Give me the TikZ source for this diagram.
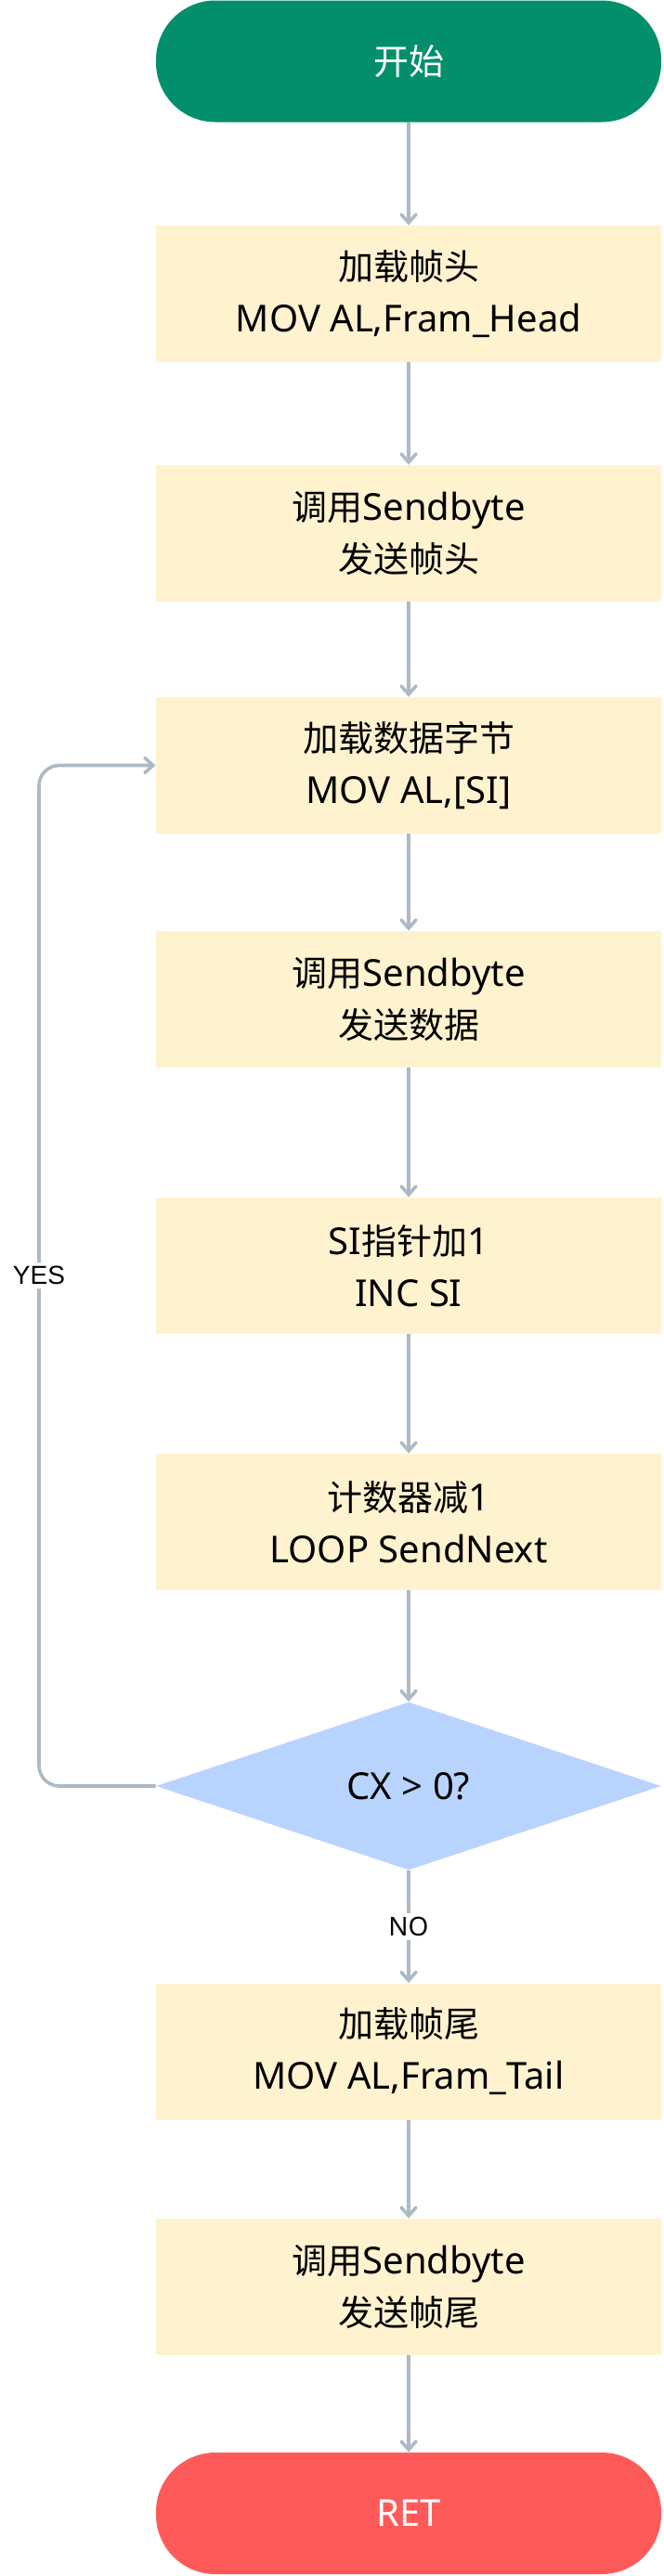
\documentclass[tikz,border=0pt]{standalone}
\usepackage{fontspec}
\setmainfont{Noto Sans}
\newfontfamily\cjk{Noto Sans CJK SC}
\newfontfamily\labelfont{Liberation Sans}
\newcommand{\zh}[1]{{\cjk\fontsize{19}{28}\selectfont #1}}
\usetikzlibrary{shapes.geometric,arrows.meta}
\definecolor{startgreen}{HTML}{038F6C}
\definecolor{stepyellow}{HTML}{FFF3CF}
\definecolor{testblue}{HTML}{B8D4FE}
\definecolor{endred}{HTML}{FF5A5A}
\definecolor{linegray}{HTML}{ADB9C3}
\tikzset{
  terminal/.style={rectangle, rounded corners=32pt, minimum width=272pt, minimum height=65.5pt,
    inner sep=0pt, text=white, font=\fontsize{20}{28}\selectfont},
  stepbox/.style={rectangle, fill=stepyellow, minimum width=272pt, minimum height=73.5pt,
    inner sep=0pt, align=center, font=\fontsize{20}{28}\selectfont},
  testbox/.style={diamond, fill=testblue, aspect=3, minimum width=272pt, minimum height=90.5pt,
    inner sep=0pt, font=\fontsize{20}{28}\selectfont},
  flow/.style={draw=linegray, line width=1.8pt, -{Straight Barb[length=4.5pt,width=8pt,line cap=round]}},
  branch/.style={fill=white, inner sep=2pt, font=\labelfont\fontsize{14}{16}\selectfont}
}
\begin{document}
\begin{tikzpicture}
\useasboundingbox (0,0) rectangle (357pt,-1387.5pt);
\node [terminal, fill=startgreen] (start) at (220pt,-33pt) {\zh{开始}};
\node [stepbox] (head) at (220pt,-158.25pt) {\zh{加载帧头}\\MOV AL,Fram\_Head};
\node [stepbox] (sendhead) at (220pt,-287.25pt) {\zh{调用}Sendbyte\\\zh{发送帧头}};
\node [stepbox] (load) at (220pt,-412.25pt) {\zh{加载数据字节}\\MOV AL,[SI]};
\node [stepbox] (senddata) at (220pt,-538.25pt) {\zh{调用}Sendbyte\\\zh{发送数据}};
\node [stepbox] (incsi) at (220pt,-681.75pt) {SI\zh{指针加}1\\INC SI};
\node [stepbox] (count) at (220pt,-819.75pt) {\zh{计数器减}1\\LOOP SendNext};
\node [testbox] (test) at (220pt,-962pt) {CX > 0?};
\node [stepbox] (tail) at (220pt,-1105pt) {\zh{加载帧尾}\\MOV AL,Fram\_Tail};
\node [stepbox] (sendtail) at (220pt,-1231.75pt) {\zh{调用}Sendbyte\\\zh{发送帧尾}};
\node [terminal, fill=endred] (ret) at (220pt,-1353.75pt) {RET};
\coordinate (loopbottom) at (21pt,-962pt);
\coordinate (looptop) at (21pt,-412.25pt);
\draw [flow] (start) -- (head);
\draw [flow] (head) -- (sendhead);
\draw [flow] (sendhead) -- (load);
\draw [flow] (load) -- (senddata);
\draw [flow] (senddata) -- (incsi);
\draw [flow] (incsi) -- (count);
\draw [flow] (count) -- (test);
\draw [flow] (test) -- node [branch, font=\fontsize{14}{16}\selectfont] {NO} (tail);
\draw [flow] (tail) -- (sendtail);
\draw [flow] (sendtail) -- (ret);
\draw [flow, rounded corners=11pt] (test.west) -- (loopbottom) -- node [branch] {YES} (looptop) -- (load.west);
\end{tikzpicture}
\end{document}
